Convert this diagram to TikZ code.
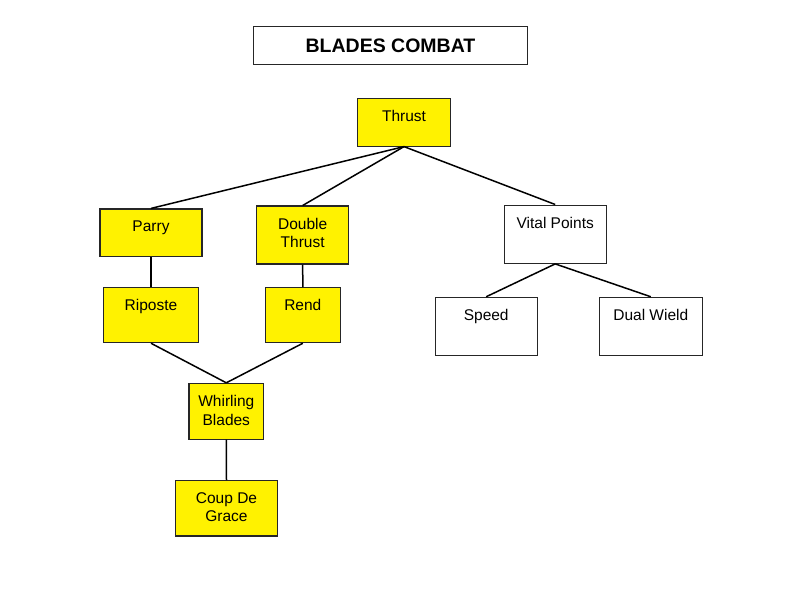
\documentclass[tikz,border=0pt]{standalone}
\usepackage{fontspec}
\setmainfont{Liberation Sans}
\begin{document}
\begin{tikzpicture}[x=1pt, y=-1pt,
    box/.style={draw=black!85, line width=1.1pt, inner sep=0pt},
    ybox/.style={box, fill=yellow},
    wbox/.style={box, fill=white},
    txt/.style={anchor=north, yshift=-12.3pt, inner sep=0pt, align=center,
      font=\fontsize{15.5}{18.5}\selectfont},
    link/.style={line width=1.5pt, black}]
        \useasboundingbox (0, 0) rectangle (800, 600);

        \node[box, minimum width=274pt, minimum height=37.6pt,
          font=\fontsize{19.5}{22}\selectfont\bfseries] (title) at (390.5, 45.5) {BLADES COMBAT};

        \node[ybox, minimum width=93pt, minimum height=47.7pt, label={[txt]north:Thrust}] (thrust) at (404, 122.2) {};

        \node[ybox, minimum width=102pt, minimum height=47.7pt, label={[txt]north:Parry}] (parry) at (151, 232.8) {};
        \node[ybox, minimum width=92pt, minimum height=58pt, label={[txt]north:Double\\Thrust}] (dthrust) at (302.7, 235) {};
        \node[wbox, minimum width=101.7pt, minimum height=58.3pt, label={[txt]north:Vital Points}] (vital) at (555.2, 234.2) {};

        \node[ybox, minimum width=95.4pt, minimum height=55pt, label={[txt]north:Riposte}] (riposte) at (151, 315.2) {};
        \node[ybox, minimum width=75pt, minimum height=55pt, label={[txt]north:Rend}] (rend) at (302.8, 315.2) {};
        \node[wbox, minimum width=102.3pt, minimum height=58pt, label={[txt]north:Speed}] (speed) at (486.2, 326.3) {};
        \node[wbox, minimum width=103pt, minimum height=58pt, label={[txt]north:Dual Wield}] (dual) at (650.8, 326.3) {};

        \node[ybox, minimum width=74.7pt, minimum height=55.7pt, label={[txt]north:Whirling\\Blades}] (whirl) at (226.3, 411.2) {};
        \node[ybox, minimum width=101.6pt, minimum height=55.3pt, label={[txt]north:Coup De\\Grace}] (coup) at (226.5, 508.3) {};

        \draw[link] (thrust.south) -- (parry.north);
        \draw[link] (thrust.south) -- (dthrust.north);
        \draw[link] (thrust.south) -- (vital.north);
        \draw[link] (parry.south) -- (riposte.north);
        \draw[link] (dthrust.south) -- (rend.north);
        \draw[link] (vital.south) -- (speed.north);
        \draw[link] (vital.south) -- (dual.north);
        \draw[link] (riposte.south) -- (whirl.north);
        \draw[link] (rend.south) -- (whirl.north);
        \draw[link] (whirl.south) -- (coup.north);
      \end{tikzpicture}
\end{document}
